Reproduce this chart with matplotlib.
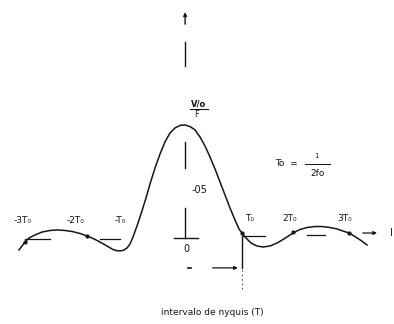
import matplotlib
matplotlib.use("Agg")
import matplotlib.pyplot as plt

# pulse read in units of T0 (x) and normalised amplitude (y)
curve_t = [-3.0, -2.945, -2.891, -2.818, -2.709, -2.582, -2.436, -2.309, -2.164, -2.036,
           -1.891, -1.764, -1.636, -1.527, -1.4, -1.291, -1.2, -1.109, -1.036, -0.982,
           -0.927, -0.855, -0.782, -0.691, -0.618, -0.527, -0.436, -0.345, -0.255, -0.164,
           -0.073, 0.018, 0.109, 0.2, 0.291, 0.382, 0.473, 0.564, 0.655, 0.745,
           0.836, 0.927, 1.0, 1.055, 1.127, 1.218, 1.327, 1.436, 1.564, 1.691,
           1.818, 1.927, 2.018, 2.109, 2.236, 2.382, 2.509, 2.655, 2.782, 2.891,
           3.0, 3.109, 3.218, 3.327]
curve_v = [-0.127, -0.091, -0.055, -0.018, 0.009, 0.036, 0.05, 0.055, 0.05, 0.041,
           0.023, 0.0, -0.027, -0.055, -0.091, -0.123, -0.136, -0.132, -0.109, -0.073,
           -0.009, 0.091, 0.2, 0.345, 0.473, 0.618, 0.745, 0.855, 0.936, 0.982,
           1.005, 1.009, 0.995, 0.964, 0.9, 0.818, 0.718, 0.609, 0.491, 0.373,
           0.255, 0.145, 0.064, 0.027, -0.018, -0.064, -0.091, -0.1, -0.091, -0.064,
           -0.027, 0.009, 0.036, 0.059, 0.077, 0.086, 0.086, 0.077, 0.064, 0.045,
           0.027, -0.005, -0.041, -0.082]

tick_labels = ["-3T\u2080", "-2T\u2080", "-T\u2080", "T\u2080", "2T\u2080", "3T\u2080"]
tick_t = [-2.93, -1.98, -1.16, 1.20, 1.93, 2.93]
tick_v = [0.145, 0.145, 0.145, 0.155, 0.155, 0.16]

mark_t = [-2.891, -1.764, 1.055, 1.982, 3.0]
mark_v = [-0.055, 0.0, 0.027, 0.036, 0.027]

INK = "#151515"

fig = plt.figure(figsize=(3.94, 3.24), dpi=100)
ax = fig.add_axes([0, 0, 1, 1])
ax.set_xlim(-184 / 55, 210 / 55)
ax.set_ylim(-0.8, 2.145)
ax.axis("off")

ax.plot(curve_t, curve_v, color=INK, lw=1.1, solid_joinstyle="round")
ax.plot(mark_t, mark_v, "o", color=INK, ms=2)

# broken zero line
for t0, t1, lev in [(-2.89, -2.44, -0.027), (-1.53, -1.16, -0.027),
                    (1.07, 1.47, 0.0), (2.24, 2.56, 0.01)]:
    ax.plot([t0, t1], [lev, lev], color=INK, lw=0.9)
ax.annotate("", xy=(3.56, 0.027), xytext=(3.2, 0.027),
            arrowprops=dict(arrowstyle="-|>", color=INK, lw=0.9,
                            mutation_scale=5))
ax.text(3.78, 0.03, "I", fontsize=7, color=INK, ha="center", va="center")

# broken vertical axis
ax.annotate("", xy=(0.02, 2.06), xytext=(0.02, 1.9),
            arrowprops=dict(arrowstyle="-|>", color=INK, lw=1.0,
                            mutation_scale=5))
for y0, y1 in [(1.764, 1.545), (0.85, 0.62), (0.25, -0.02)]:
    ax.plot([0.02, 0.02], [y0, y1], color=INK, lw=1.0)
ax.plot([-0.18, 0.25], [-0.02, -0.02], color=INK, lw=1.0)

ax.text(0.05, -0.12, "0", fontsize=7, color=INK, ha="center", va="center")
ax.text(0.29, 0.42, "-05", fontsize=7, color=INK, ha="center", va="center")

# peak value V/o over F
ax.text(0.27, 1.2, "V/o", fontsize=6, color=INK, ha="center", va="center",
        weight="bold")
ax.plot([0.11, 0.44], [1.155, 1.155], color=INK, lw=0.8)
ax.text(0.22, 1.1, "F", fontsize=6, color=INK, ha="center", va="center")

for lab, t, v in zip(tick_labels, tick_t, tick_v):
    ax.text(t, v, lab, fontsize=6.5, color=INK, ha="center", va="center")

# T0 = 1 / 2f0
ax.text(1.86, 0.66, "To  =", fontsize=6.5, color=INK, ha="center", va="center")
ax.text(2.4, 0.73, "1", fontsize=5, color=INK, ha="center", va="center")
ax.plot([2.2, 2.65], [0.65, 0.65], color=INK, lw=0.7)
ax.text(2.42, 0.57, "2fo", fontsize=6.5, color=INK, ha="center", va="center")

# nyquist interval marker
ax.plot([1.05, 1.05], [0.0, -0.29], color=INK, lw=1.0)
ax.plot([1.05, 1.05], [-0.31, -0.49], color=INK, lw=0.8, ls=(0, (1, 3)))
ax.annotate("", xy=(1.03, -0.29), xytext=(0.47, -0.29),
            arrowprops=dict(arrowstyle="-|>", color=INK, lw=0.9,
                            mutation_scale=5))
ax.plot([0.07, 0.13], [-0.29, -0.29], color=INK, lw=1.2)

ax.text(0.51, -0.70, "intervalo de nyquis (T)", fontsize=6.5, color=INK,
        ha="center", va="center")

fig.savefig("out.png", dpi=100)
